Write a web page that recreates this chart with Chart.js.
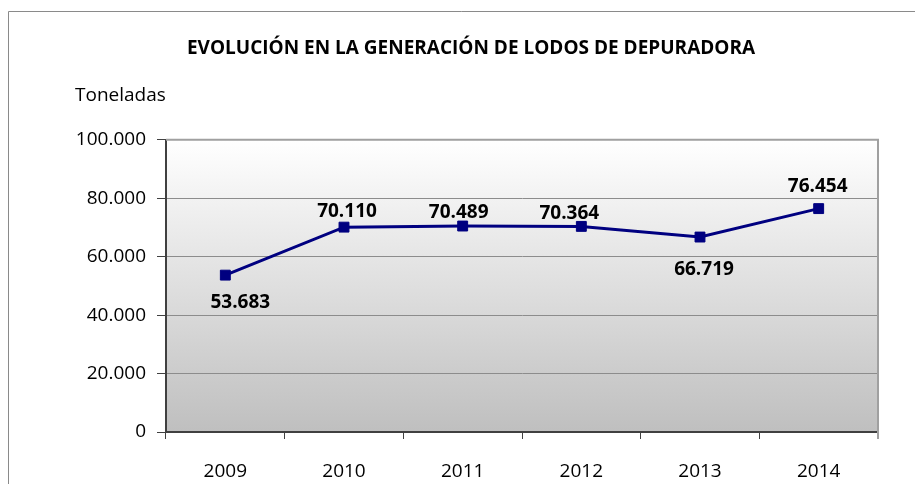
<!DOCTYPE html>
<html>
<head>
<meta charset="utf-8">
<script src="https://cdn.jsdelivr.net/npm/chart.js@4/dist/chart.umd.min.js"></script>
<style>
  html, body { margin: 0; padding: 0; background: #fff; }
  canvas { display: block; }
</style>
</head>
<body>
<canvas id="lodosChart" width="915" height="484"></canvas>
<script>
// datos
const years = ['2009', '2010', '2011', '2012', '2013', '2014'];
const toneladas = [53683, 70110, 70489, 70364, 66719, 76454];
const yTicks = [0, 20000, 40000, 60000, 80000, 100000];

// desplazamiento de las etiquetas respecto al punto (estilo)
const labelOffsets = [[15, 27], [3, -16], [-4, -13], [-12, -13], [4, 33], [-1, -22]];

const FONT = '"Open Sans", "Liberation Sans", sans-serif';

function miles(v) {
    return String(v).replace(/\B(?=(\d{3})+(?!\d))/g, '.');
}

// fondo degradado, bordes y texto "Toneladas"
const decoracion = {
    id: 'decoracion',
    beforeDraw(chart) {
        const { ctx, chartArea: a } = chart;
        ctx.save();
        // marco exterior
        ctx.strokeStyle = '#8a8a8a';
        ctx.lineWidth = 1;
        ctx.beginPath();
        ctx.moveTo(8.5, chart.height);
        ctx.lineTo(8.5, 11.5);
        ctx.lineTo(chart.width, 11.5);
        ctx.stroke();
        // fondo del área de trazado
        const g = ctx.createLinearGradient(0, a.top, 0, a.bottom);
        g.addColorStop(0, '#ffffff');
        g.addColorStop(1, '#bfbfbf');
        ctx.fillStyle = g;
        ctx.fillRect(a.left, a.top, a.right - a.left, a.bottom - a.top);
        // título del eje
        ctx.fillStyle = '#000';
        ctx.font = '19px ' + FONT;
        ctx.textAlign = 'left';
        ctx.textBaseline = 'middle';
        ctx.fillText('Toneladas', 75, 96);
        ctx.restore();
    },
    beforeDatasetsDraw(chart) {
        const { ctx, chartArea: a } = chart;
        ctx.save();
        ctx.strokeStyle = '#a0a0a0';
        ctx.lineWidth = 2;
        ctx.beginPath();
        ctx.moveTo(a.left, a.top);
        ctx.lineTo(a.right, a.top);
        ctx.lineTo(a.right, a.bottom + 7);
        ctx.stroke();
        ctx.restore();
    },
    afterDatasetsDraw(chart) {
        const { ctx } = chart;
        const meta = chart.getDatasetMeta(0);
        ctx.save();
        ctx.fillStyle = '#000';
        ctx.font = 'bold 19px ' + FONT;
        ctx.textAlign = 'center';
        ctx.textBaseline = 'middle';
        meta.data.forEach((p, i) => {
            const off = labelOffsets[i];
            ctx.fillText(miles(toneladas[i]), p.x + off[0], p.y + off[1]);
        });
        ctx.restore();
    }
};

const lodosChart = new Chart(document.getElementById('lodosChart'), {
    type: 'line',
    data: {
        labels: years,
        datasets: [{
            data: toneladas,
            borderColor: '#000080',
            borderWidth: 3,
            pointStyle: 'rect',
            pointRadius: 7,
            pointBackgroundColor: '#000080',
            pointBorderColor: '#000080',
            pointBorderWidth: 1,
            tension: 0
        }]
    },
    options: {
        responsive: false,
        devicePixelRatio: 1,
        animation: false,
        layout: { padding: { left: 64, right: 37, top: 0, bottom: 0 } },
        plugins: {
            legend: { display: false },
            tooltip: { enabled: false },
            title: {
                display: true,
                text: 'EVOLUCIÓN EN LA GENERACIÓN DE LODOS DE DEPURADORA',
                color: '#000',
                font: { family: FONT, size: 19, weight: 'bold' },
                padding: { top: 37, bottom: 80 }
            }
        },
        scales: {
            x: {
                offset: true,
                afterFit: s => { s.height = 52; },
                grid: { offset: true, drawOnChartArea: false, tickLength: 7, tickColor: '#404040' },
                border: { color: '#404040', width: 2 },
                ticks: { color: '#000', font: { family: FONT, size: 19 }, padding: 21, maxRotation: 0 }
            },
            y: {
                min: 0,
                max: 100000,
                afterFit: s => { s.width = 102; },
                afterBuildTicks: s => { s.ticks = yTicks.map(v => ({ value: v })); },
                grid: { color: '#8c8c8c', lineWidth: 1, tickLength: 9, tickColor: '#404040' },
                border: { color: '#404040', width: 2 },
                ticks: { color: '#000', font: { family: FONT, size: 19 }, padding: 11, callback: v => miles(v) }
            }
        }
    },
    plugins: [decoracion]
});
</script>
</body>
</html>
